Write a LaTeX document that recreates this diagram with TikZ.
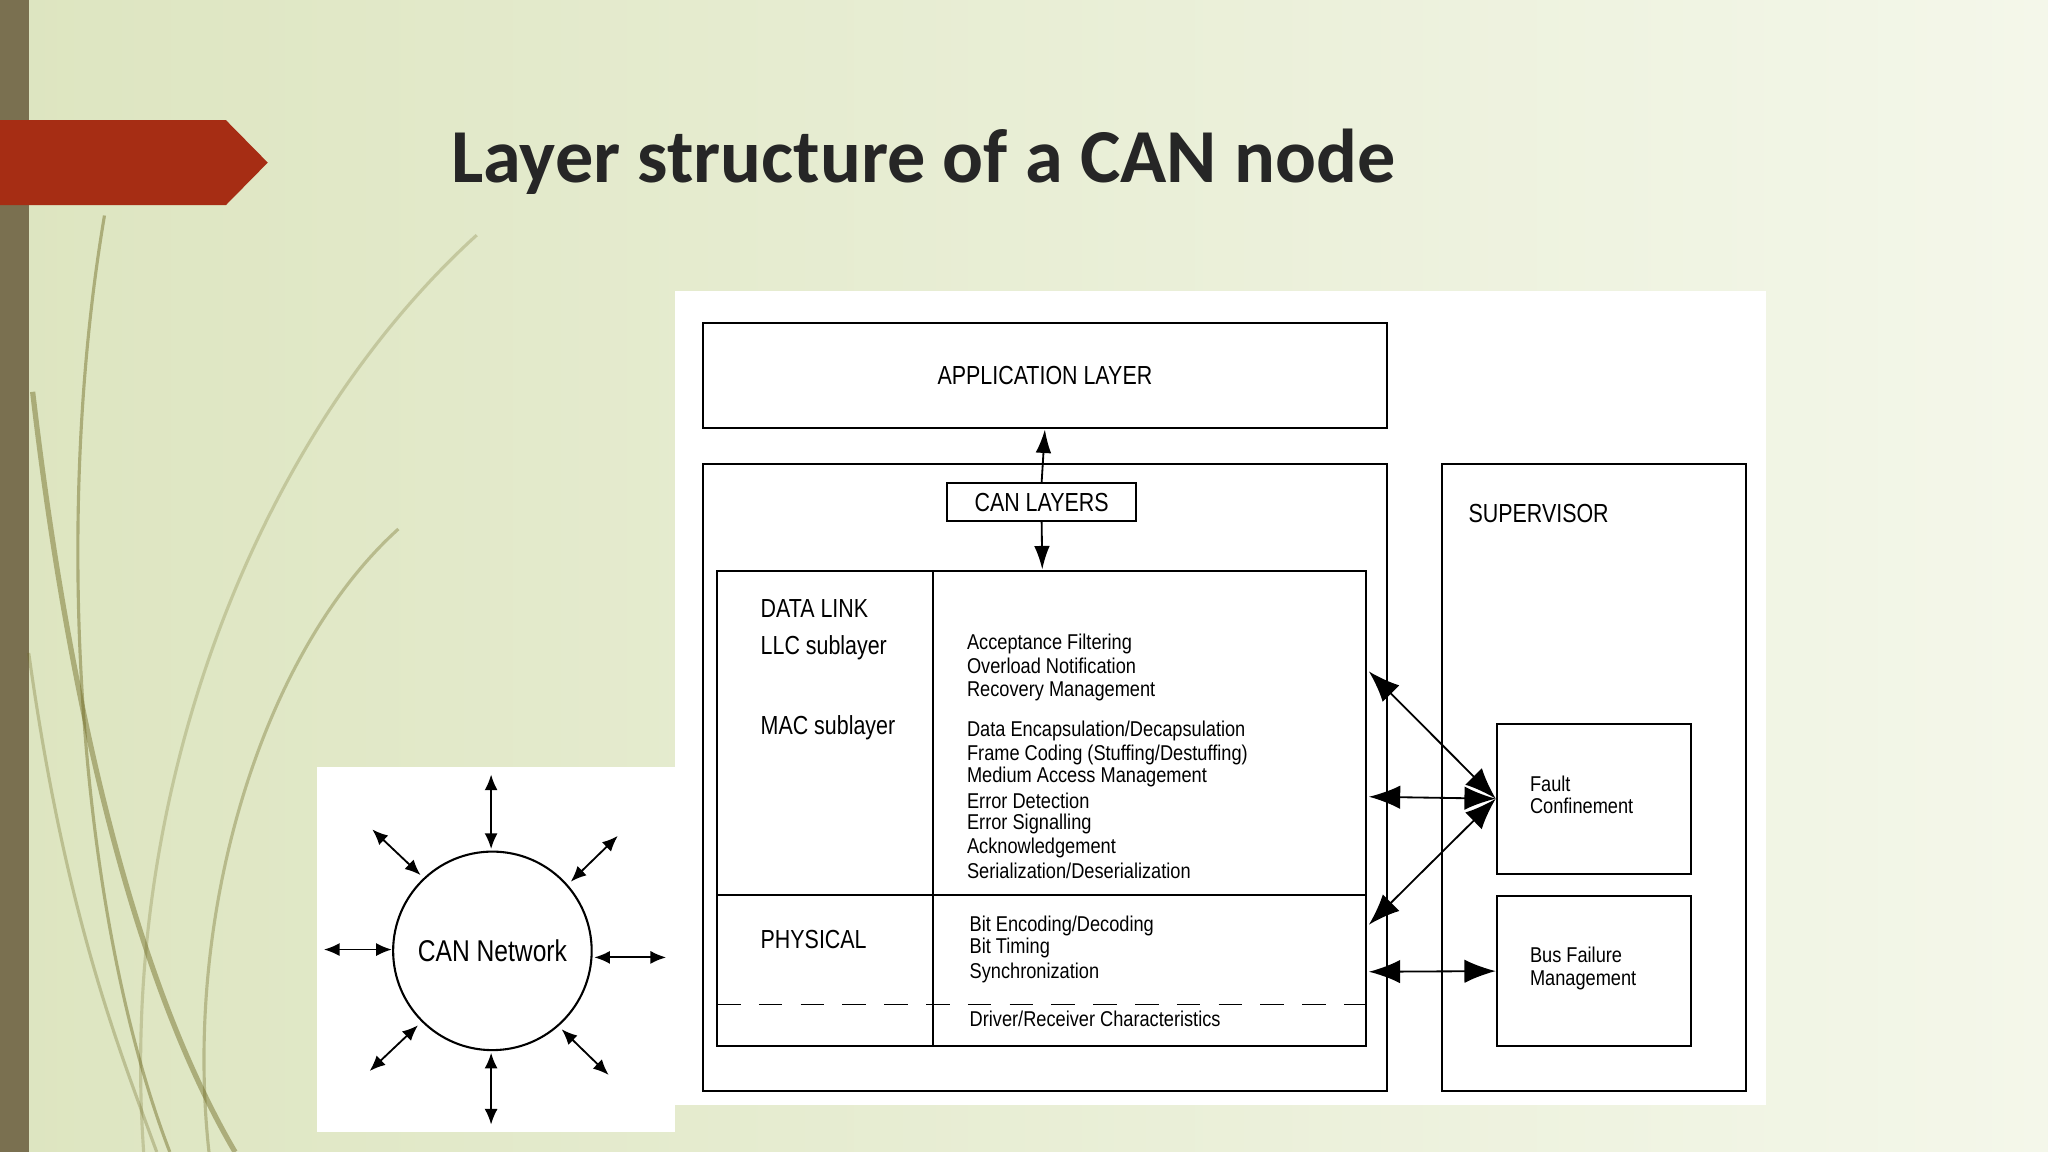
\documentclass[tikz,border=0pt]{standalone}
\usepackage{fontspec}
\setmainfont{Liberation Sans}[FakeStretch=0.82]
\newfontfamily\smallfont{Liberation Sans}[FakeStretch=0.85]
\newfontfamily\titlefont{Carlito}
\usetikzlibrary{arrows.meta}
\definecolor{bgl}{RGB}{221,229,192}
\definecolor{bgr}{RGB}{244,247,234}
\definecolor{bar}{RGB}{122,112,80}
\definecolor{redarr}{RGB}{166,45,20}
\definecolor{ttl}{RGB}{38,38,38}
\begin{document}
\begin{tikzpicture}[x=0.5pt,y=-0.5pt,
  box/.style={draw,line width=0.8pt},
  lbl/.style={font=\fontsize{10}{12}\selectfont,inner sep=0pt},
  small/.style={font=\smallfont\fontsize{8.2}{9}\selectfont,inner sep=0pt,anchor=west},
  dbl/.style={{Latex[length=12pt,width=9pt]}-{Latex[length=12pt,width=9pt]},line width=0.7pt},
  dbs/.style={{Latex[length=6pt,width=5pt]}-{Latex[length=6pt,width=5pt]},line width=0.7pt},
  one/.style={-{Latex[length=9pt,width=6pt]},line width=0.7pt},
  swoosh/.style={draw=olive!70!black,opacity=0.45,line width=1.2pt}]
\useasboundingbox (0,0) rectangle (1568,882);
\shade[left color=bgl,right color=bgr] (0,0) rectangle (1568,882);
\fill[bar] (0,0) rectangle (22,882);
% swooshes
\draw[swoosh] (80,165) .. controls (40,400) and (60,700) .. (130,882);
\draw[swoosh,line width=2pt] (25,300) .. controls (60,600) and (120,780) .. (180,882);
\draw[swoosh,opacity=0.25] (365,180) .. controls (200,330) and (90,600) .. (110,882);
\draw[swoosh,opacity=0.35] (305,405) .. controls (200,500) and (140,700) .. (160,882);
\draw[swoosh,opacity=0.3] (22,500) .. controls (50,700) and (90,800) .. (120,882);
% red arrow
\fill[redarr] (0,92) -- (173,92) -- (205,124.5) -- (173,157) -- (0,157) -- cycle;
\node[anchor=west,inner sep=0pt,font=\titlefont\bfseries\fontsize{29.2}{32}\selectfont,text=ttl] (title) at (345,124) {Layer structure of a CAN node};
% panels
\fill[white] (517,223) rectangle (1352,846);
\fill[white] (243,587) rectangle (517,867);
% boxes
\node[box,minimum width=262pt,minimum height=40.5pt,lbl] (app) at (800,287.5) {APPLICATION LAYER};
\draw[box] (538,355) rectangle (1062,835);
\node[box,minimum width=72.5pt,minimum height=14.5pt,lbl] (canl) at (797.5,384.5) {CAN LAYERS};
\draw[box] (549,437) rectangle (1046,801);
\draw[box] (714,437) -- (714,801);
\draw[box] (549,685) -- (1046,685);
\draw[line width=0.7pt,dash pattern=on 9pt off 7pt] (549,769) -- (1046,769);
\coordinate (dlt) at (798,436);
\draw[one] (canl.north) -- (app.south);
\draw[one] (canl.south) -- (dlt);
\node[lbl,anchor=west] (dl) at (582,466) {DATA LINK};
\node[lbl,anchor=west] (llc) at (582,496) {LLC sublayer};
\node[lbl,anchor=west] (mac) at (582,557) {MAC sublayer};
\node[lbl,anchor=west] (phy) at (582,719) {PHYSICAL};
\node[small] (t1) at (740,493) {Acceptance Filtering};
\node[small] (t2) at (740,510) {Overload Notification};
\node[small] (t3) at (740,529) {Recovery Management};
\node[small] (t4) at (740,560) {Data Encapsulation/Decapsulation};
\node[small] (t5) at (740,578) {Frame Coding (Stuffing/Destuffing)};
\node[small] (t6) at (740,595) {Medium Access Management};
\node[small] (t7) at (740,613) {Error Detection};
\node[small] (t8) at (740,631) {Error Signalling};
\node[small] (t9) at (740,649) {Acknowledgement};
\node[small] (t10) at (740,667) {Serialization/Deserialization};
\node[small] (t11) at (742,709) {Bit Encoding/Decoding};
\node[small] (t12) at (742,726) {Bit Timing};
\node[small] (t13) at (742,745) {Synchronization};
\node[small] (t14) at (742,780) {Driver/Receiver Characteristics};
% supervisor
\draw[box] (1104,355) rectangle (1337,835);
\node[lbl,anchor=west] (sup) at (1124,393) {SUPERVISOR};
\node[box,minimum width=74.5pt,minimum height=57.5pt] (fault) at (1220.5,611.5) {};
\node[box,minimum width=74.5pt,minimum height=57.5pt] (bus) at (1220.5,743.5) {};
\node[small,align=left,font=\smallfont\fontsize{8.2}{8.7}\selectfont] (ft) at (1171,608.5) {Fault\\Confinement};
\node[small,align=left,font=\smallfont\fontsize{8.2}{8.7}\selectfont] (bt) at (1171,741.5) {Bus Failure\\Management};
\coordinate (a1) at (1048,514);
\coordinate (a2) at (1048,610);
\coordinate (a3) at (1048,708);
\coordinate (a4) at (1048,744);
\draw[dbl] (a1) -- (fault.west);
\draw[dbl] (a2) -- (fault.west);
\draw[dbl] (a3) -- (fault.west);
\draw[dbl] (a4) -- (bus.west);
% CAN network
\node[draw,circle,line width=0.8pt,minimum size=76pt,font=\fontsize{11.5}{13}\selectfont,inner sep=0pt] (net) at (377,728) {CAN Network};
\coordinate (n1) at (376,650); \coordinate (n2) at (376,593);
\coordinate (s1) at (376,806); \coordinate (s2) at (376,861);
\coordinate (w1) at (300,727); \coordinate (w2) at (248,727);
\coordinate (e1) at (455,733); \coordinate (e2) at (510,733);
\coordinate (nw1) at (322,670); \coordinate (nw2) at (285,635);
\coordinate (ne1) at (437,675); \coordinate (ne2) at (473,640);
\coordinate (sw1) at (320,785); \coordinate (sw2) at (283,820);
\coordinate (se1) at (430,788); \coordinate (se2) at (466,823);
\foreach \d in {n,s,w,e,nw,ne,sw,se}{\draw[dbs] (\d1) -- (\d2);}
\end{tikzpicture}
\end{document}
